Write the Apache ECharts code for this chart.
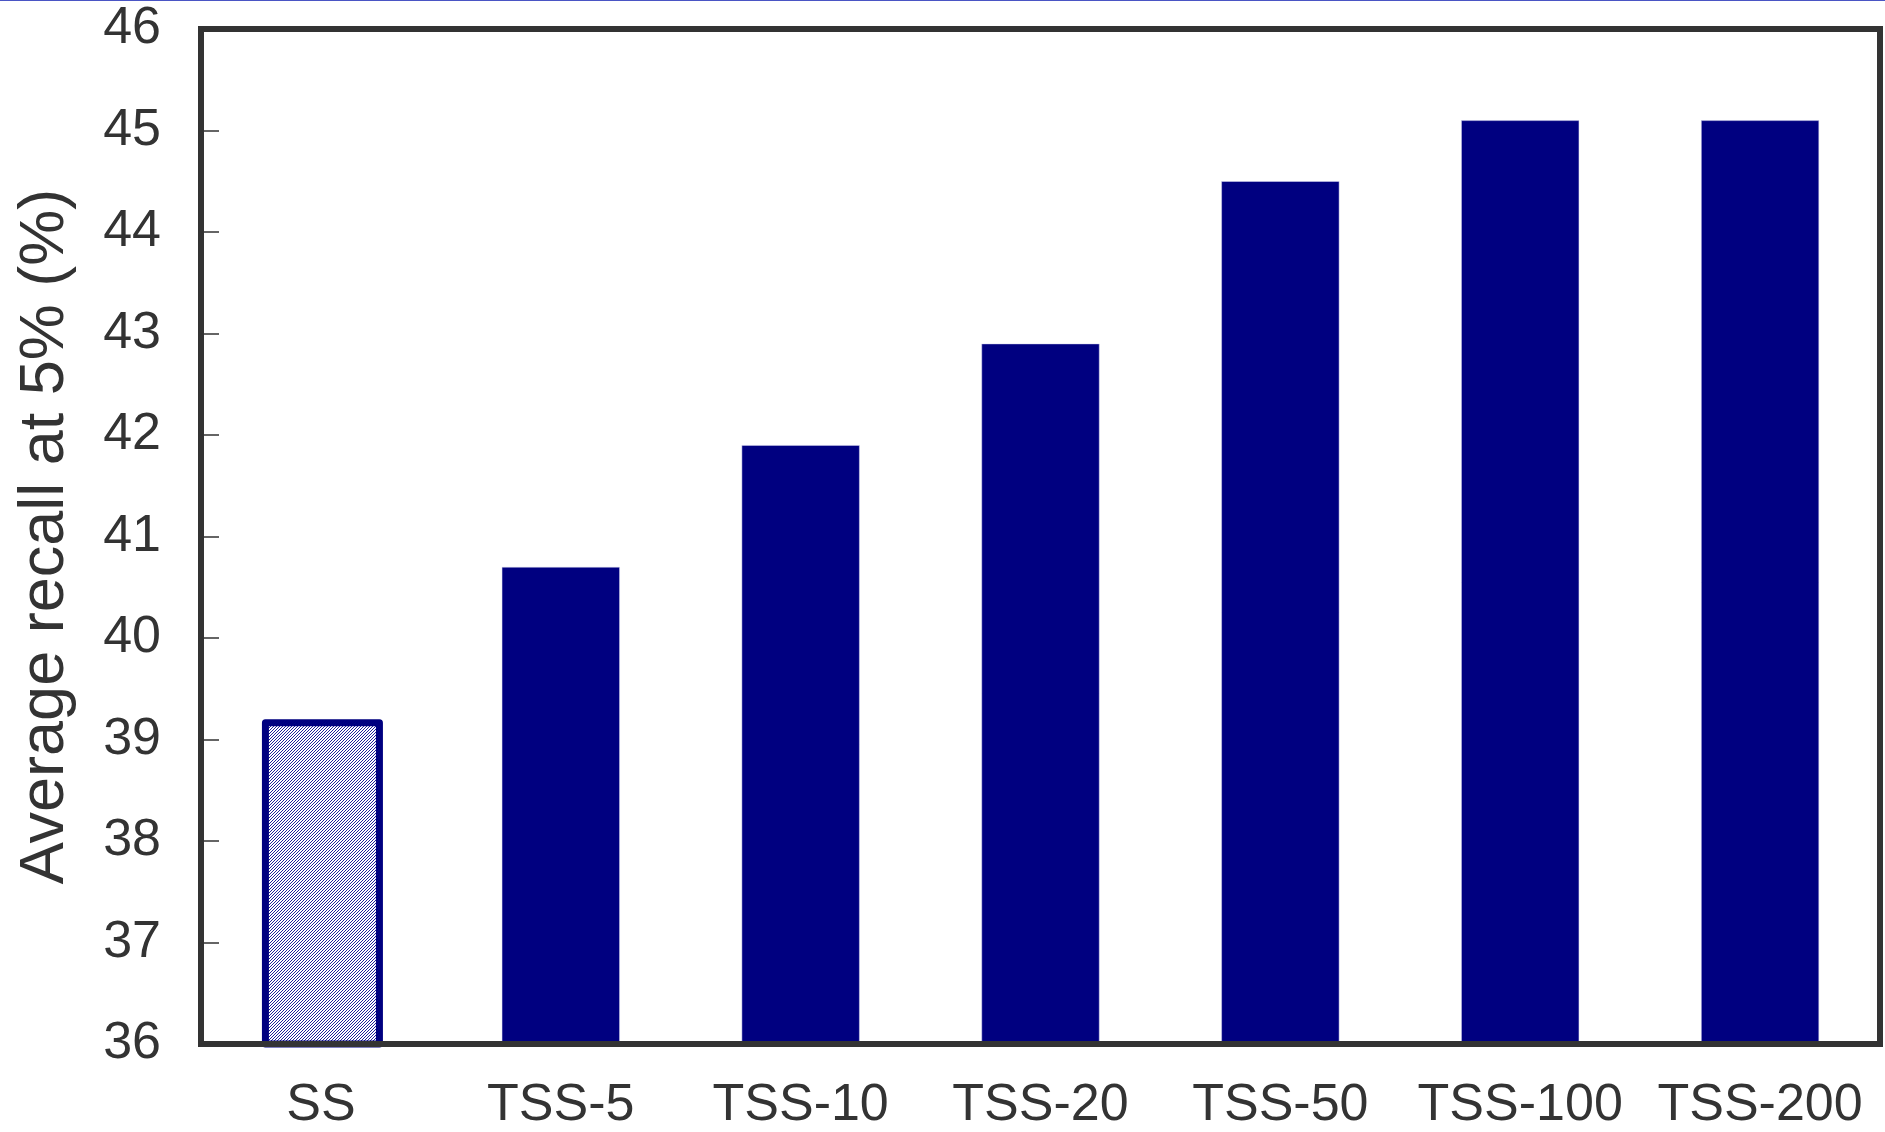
<!DOCTYPE html>
<html>
<head>
<meta charset="utf-8">
<script src="https://cdn.jsdelivr.net/npm/echarts@6/dist/echarts.min.js"></script>
<style>
html,body{margin:0;padding:0;background:#fff;}
#chart{width:1885px;height:1132px;}
</style>
</head>
<body>
<div id="chart"></div>
<script>
const categories = ['SS', 'TSS-5', 'TSS-10', 'TSS-20', 'TSS-50', 'TSS-100', 'TSS-200'];
const recallValues = [39.2, 40.7, 41.9, 42.9, 44.5, 45.1, 45.1];
const yAxisTitle = 'Average recall at 5% (%)';

// hatch pattern for the baseline bar
const pc = document.createElement('canvas');
pc.width = 3; pc.height = 3;
const pctx = pc.getContext('2d');
pctx.fillStyle = '#ffffff';
pctx.fillRect(0, 0, 3, 3);
pctx.fillStyle = '#20209a';
for (let x = 0; x < 3; x++) for (let y = 0; y < 3; y++) if ((x + y) % 3 === 0) pctx.fillRect(x, y, 1, 1);

const baselineData = recallValues.map((v, i) => i === 0 ? v : '-');
const tssData = recallValues.map((v, i) => i === 0 ? '-' : v);

const FONT = 'Liberation Sans, Arial, sans-serif';
const chart = echarts.init(document.getElementById('chart'), null, {renderer: 'canvas'});
chart.setOption({
  animation: false,
  backgroundColor: '#ffffff',
  textStyle: {fontFamily: FONT},
  grid: {left: 201, right: 5, top: 29, bottom: 85, show: true, borderColor: '#333333', borderWidth: 6, backgroundColor: 'transparent'},
  graphic: [{type: 'rect', left: 0, top: 0, shape: {width: 1885, height: 1}, style: {fill: '#4a55c4'}, silent: true}],
  xAxis: {
    type: 'category',
    data: categories,
    z: 10,
    axisLine: {show: true, lineStyle: {color: '#333333', width: 6}},
    axisTick: {show: false},
    axisLabel: {color: '#333333', fontSize: 52, margin: 36, interval: 0, fontFamily: FONT}
  },
  yAxis: {
    type: 'value',
    min: 36, max: 46, interval: 1,
    name: yAxisTitle,
    nameLocation: 'middle',
    nameGap: 124,
    nameTextStyle: {color: '#333333', fontSize: 63, fontFamily: FONT},
    z: 10,
    axisLine: {show: true, lineStyle: {color: '#333333', width: 6}},
    axisTick: {show: true, inside: true, length: 18, lineStyle: {color: '#333333', width: 1.5}},
    axisLabel: {color: '#333333', fontSize: 52, margin: 40, fontFamily: FONT},
    splitLine: {show: false}
  },
  series: [{
    type: 'bar',
    name: 'SS',
    data: baselineData,
    barWidth: 121,
    barGap: '-100%',
    itemStyle: {color: {image: pc, repeat: 'repeat'}, borderColor: '#000080', borderWidth: 7, borderJoin: 'round'}
  }, {
    type: 'bar',
    name: 'TSS',
    data: tssData,
    barWidth: 118,
    barGap: '-100%',
    itemStyle: {color: '#000080', borderColor: '#d8d8f0', borderWidth: 0.5}
  }]
});
</script>
</body>
</html>
